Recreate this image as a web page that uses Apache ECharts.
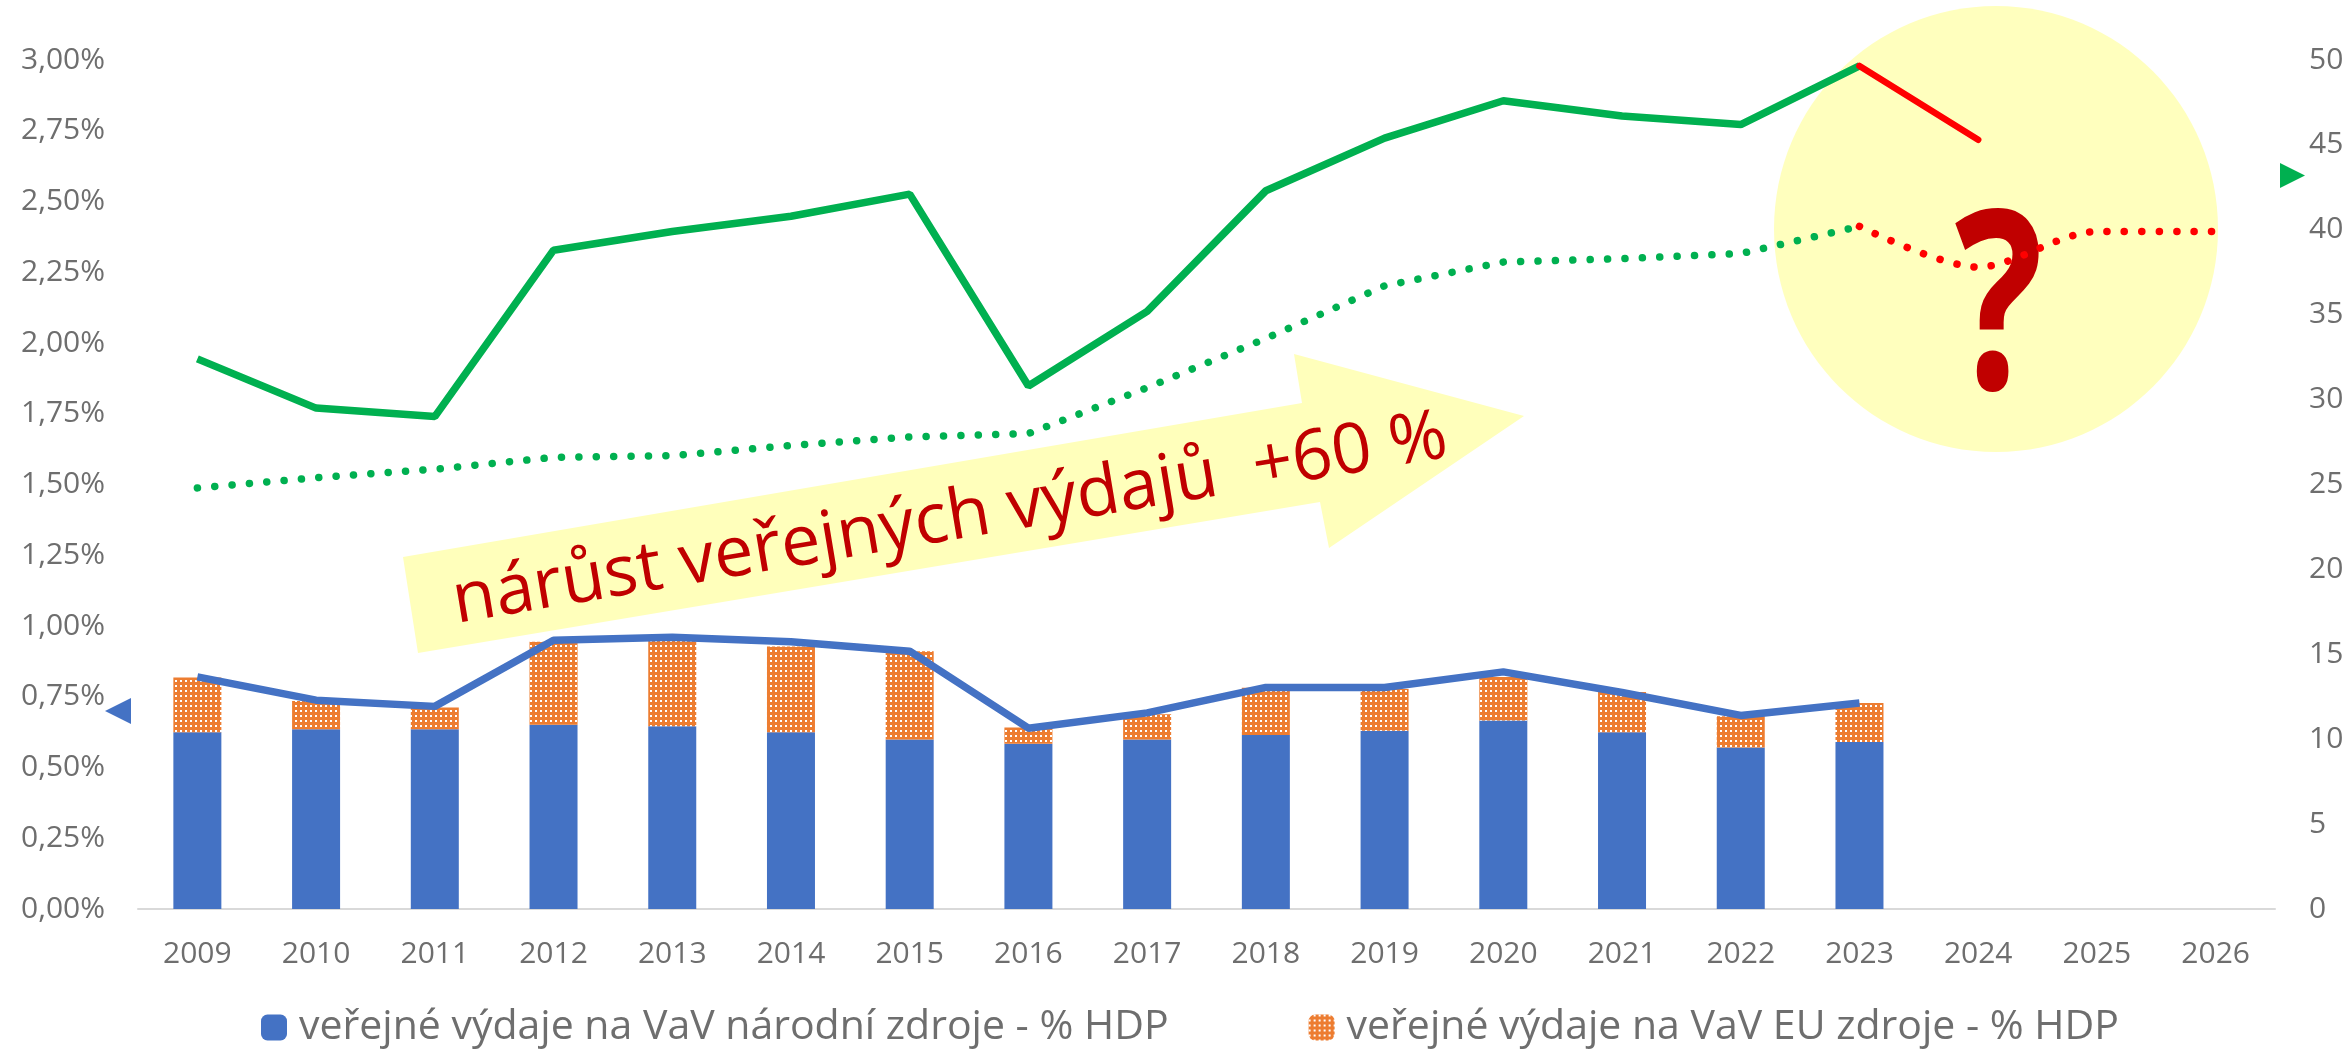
<!DOCTYPE html>
<html lang="cs" style="height: 100%">
<head>
  <meta charset="utf-8">
</head>
<body style="height: 100%; margin: 0">
  <div id="container" style="width: 2351px; height: 1049px"></div>

  <script src="https://cdn.jsdelivr.net/npm/echarts@6/dist/echarts.min.js"></script>

  <script type="text/javascript">
    // years on the x axis
    var years = ['2009', '2010', '2011', '2012', '2013', '2014', '2015', '2016', '2017',
                 '2018', '2019', '2020', '2021', '2022', '2023', '2024', '2025', '2026'];

    // % HDP (left axis)
    var narodni = [0.625, 0.635, 0.635, 0.651, 0.646, 0.625, 0.599, 0.584, 0.599,
                   0.615, 0.630, 0.666, 0.625, 0.571, 0.590, null, null, null];
    var euZdroje = [0.193, 0.100, 0.077, 0.293, 0.307, 0.303, 0.312, 0.057, 0.089,
                    0.167, 0.147, 0.154, 0.142, 0.110, 0.138, null, null, null];
    var celkemHdp = [0.820, 0.738, 0.716, 0.950, 0.960, 0.944, 0.911, 0.639, 0.693,
                     0.783, 0.783, 0.838, 0.765, 0.684, 0.728, null, null, null];

    // right axis
    var zelenaPlna = [32.4, 29.5, 29.0, 38.8, 39.9, 40.8, 42.1, 30.8, 35.2,
                      42.3, 45.4, 47.6, 46.7, 46.2, 49.65, null, null, null];
    var zelenaTeckovana = [24.8, 25.4, 25.9, 26.6, 26.7, 27.3, 27.8, 28.0, 30.7,
                           33.6, 36.7, 38.1, 38.3, 38.6, 40.2, null, null, null];
    var cervenaPlna = [null, null, null, null, null, null, null, null, null,
                       null, null, null, null, null, 49.65, 45.3, null, null];
    var cervenaTeckovana = [null, null, null, null, null, null, null, null, null,
                            null, null, null, null, null, 40.2, 37.8, 39.9, 39.9];

    var legendNames = ['veřejné výdaje na VaV národní zdroje - % HDP',
                       'veřejné výdaje na VaV EU zdroje - % HDP'];

    var axisFont = 'Open Sans';
    var axisColor = '#6e6e6e';

    // speckled orange fill like the excel pattern
    function makePattern() {
      var c = document.createElement('canvas');
      c.width = 5;
      c.height = 5;
      var ctx = c.getContext('2d');
      ctx.fillStyle = '#ED7D31';
      ctx.fillRect(0, 0, 5, 5);
      ctx.fillStyle = '#ffffff';
      ctx.fillRect(0, 0, 2, 2);
      return c;
    }

    var dom = document.getElementById('container');
    var myChart = echarts.init(dom, null, { renderer: 'canvas' });

    var option = {
      animation: false,
      backgroundColor: '#ffffff',
      grid: { left: 138, right: 76, top: 60, bottom: 140 },
      legend: {
        data: legendNames,
        left: 256,
        top: 1002,
        itemWidth: 26,
        itemHeight: 26,
        itemGap: 140,
        textStyle: { fontFamily: axisFont, fontSize: 41, color: axisColor, padding: [0, 0, 0, 7] }
      },
      xAxis: {
        type: 'category',
        data: years,
        axisLine: { lineStyle: { color: '#d9d9d9', width: 2 } },
        axisTick: { show: false },
        axisLabel: { fontFamily: axisFont, fontSize: 30, color: axisColor, margin: 30 }
      },
      yAxis: [
        {
          type: 'value',
          min: 0,
          max: 3,
          interval: 0.25,
          splitLine: { show: false },
          axisLine: { show: false },
          axisTick: { show: false },
          axisLabel: {
            fontFamily: axisFont, fontSize: 30, color: axisColor, margin: 33,
            formatter: function (v) { return v.toFixed(2).replace('.', ',') + '%'; }
          }
        },
        {
          type: 'value',
          min: 0,
          max: 50,
          interval: 5,
          splitLine: { show: false },
          axisLine: { show: false },
          axisTick: { show: false },
          axisLabel: { fontFamily: axisFont, fontSize: 30, color: axisColor, margin: 34 }
        }
      ],
      graphic: [
        {
          type: 'ellipse', z: 0,
          shape: { cx: 1996, cy: 229, rx: 222, ry: 223 },
          style: { fill: '#ffffbe' }
        },
        {
          type: 'polygon', z: 0,
          shape: { points: [[403, 557], [1302, 403], [1294, 354], [1524, 416], [1329, 548], [1320, 502], [418, 653]] },
          style: { fill: '#ffffbb' }
        },
        {
          type: 'text', z: 1,
          x: 950, y: 520, rotation: 0.166,
          style: {
            text: 'nárůst veřejných výdajů  +60 %',
            x: 0, y: 0, align: 'center', verticalAlign: 'middle',
            font: '70px "Open Sans"', fill: '#C00000'
          }
        },
        {
          type: 'text', z: 1,
          x: 1999, y: 318, scaleX: 0.74,
          style: {
            text: '?', x: 0, y: 0, align: 'center', verticalAlign: 'middle',
            font: 'bold 250px "Open Sans"', fill: '#C00000'
          }
        },
        {
          type: 'polygon', z: 1,
          shape: { points: [[105, 711], [131, 698], [131, 724]] },
          style: { fill: '#4472C4' }
        },
        {
          type: 'polygon', z: 1,
          shape: { points: [[2280, 163], [2305, 175.5], [2280, 188]] },
          style: { fill: '#00B050' }
        }
      ],
      series: [
        {
          name: legendNames[0],
          type: 'bar',
          stack: 'vav',
          barWidth: 48,
          itemStyle: { color: '#4472C4' },
          data: narodni
        },
        {
          name: legendNames[1],
          type: 'bar',
          stack: 'vav',
          barWidth: 48,
          itemStyle: { color: { image: makePattern(), repeat: 'repeat' } },
          data: euZdroje
        },
        {
          name: 'celkem % HDP',
          type: 'line',
          symbol: 'none',
          lineStyle: { color: '#4472C4', width: 7.5 },
          data: celkemHdp
        },
        {
          name: 'zelena plna',
          type: 'line',
          yAxisIndex: 1,
          symbol: 'none',
          lineStyle: { color: '#00B050', width: 7.5 },
          data: zelenaPlna
        },
        {
          name: 'zelena teckovana',
          type: 'line',
          yAxisIndex: 1,
          symbol: 'none',
          lineStyle: { color: '#00B050', width: 7.5, type: [0.1, 17.3], cap: 'round' },
          data: zelenaTeckovana
        },
        {
          name: 'cervena plna',
          type: 'line',
          yAxisIndex: 1,
          symbol: 'none',
          lineStyle: { color: '#FF0000', width: 6.5, cap: 'round' },
          data: cervenaPlna
        },
        {
          name: 'cervena teckovana',
          type: 'line',
          yAxisIndex: 1,
          symbol: 'none',
          smooth: 0.3,
          lineStyle: { color: '#FF0000', width: 7.5, type: [0.1, 17.3], cap: 'round' },
          data: cervenaTeckovana
        }
      ]
    };

    myChart.setOption(option);
    window.addEventListener('resize', myChart.resize);
  </script>
</body>
</html>
